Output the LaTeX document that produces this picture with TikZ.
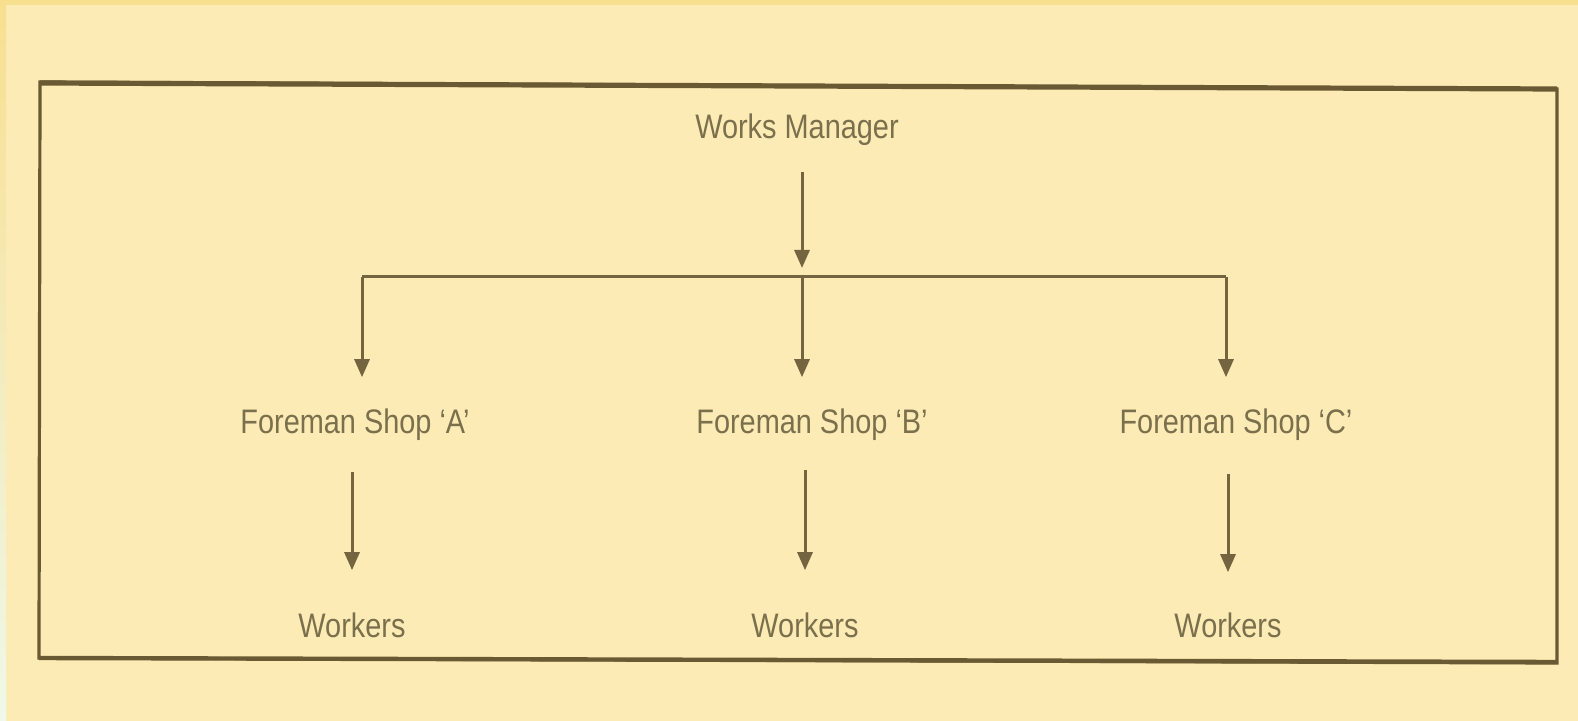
\documentclass[tikz,border=0pt]{standalone}
\usepackage{fontspec}
\setmainfont{Liberation Sans}[FakeStretch=0.85]
\usetikzlibrary{arrows.meta,calc}
\definecolor{bgc}{HTML}{FDEBB6}
\definecolor{stripc}{HTML}{F8DF90}
\definecolor{palec}{HTML}{EFF8EA}
\definecolor{framec}{HTML}{6A5A33}
\definecolor{linec}{HTML}{74643F}
\definecolor{txtc}{HTML}{7A704C}
\tikzset{
  lbl/.style={inner sep=0pt, text height=12.2pt, text depth=3.5pt, font=\fontsize{17pt}{20pt}\selectfont, text=txtc, anchor=base},
  conn/.style={draw=linec, line width=1.5pt},
  arr/.style={conn, -{Triangle[length=9pt,width=7.5pt]}},
}
\begin{document}
\begin{tikzpicture}[x=0.5pt,y=-0.5pt]
\useasboundingbox (0,0) rectangle (1578,721);
\fill[bgc] (0,0) rectangle (1578,721);
\shade[top color=stripc, bottom color=palec] (0,0) rectangle (6,721);
\fill[stripc] (0,0) rectangle (1578,5);
% frame
\draw[framec, line width=1.6pt, line join=miter] (40,82) -- (1557,89) -- (1557,663) -- (39,658) -- cycle;
\draw[framec, line width=2.6pt] (40,83) -- (1557,89);
\draw[framec, line width=2.2pt] (39,658) -- (1557,662);
% nodes
\node[lbl] (WM) at (797,139) {Works Manager};
\node[lbl] (FA) at (355,433) {Foreman Shop `A'};
\node[lbl] (FB) at (812,433) {Foreman Shop `B'};
\node[lbl] (FC) at (1236,433) {Foreman Shop `C'};
\node[lbl] (WA) at (352,637) {Workers};
\node[lbl] (WB) at (805,637) {Workers};
\node[lbl] (WC) at (1228,637) {Workers};
% bus
\coordinate (jl) at (362,277);
\coordinate (jm) at (802,277);
\coordinate (jr) at (1226,277);
\draw[conn] (jl) -- (jr);
\draw[arr, shorten <=13pt, shorten >=4.5pt] (WM.south -| jm) -- (jm);
\draw[arr, shorten >=15.5pt] (jl) -- (jl |- FA.north);
\draw[arr, shorten >=15.5pt] (jm) -- (jm |- FB.north);
\draw[arr, shorten >=15.5pt] (jr) -- (jr |- FC.north);
\draw[arr, shorten <=16pt, shorten >=21pt] (FA.south -| WA) -- (WA.north);
\draw[arr, shorten <=15pt, shorten >=21pt] (FB.south -| WB) -- (WB.north);
\draw[arr, shorten <=17pt, shorten >=20pt] (FC.south -| WC) -- (WC.north);
\end{tikzpicture}
\end{document}
